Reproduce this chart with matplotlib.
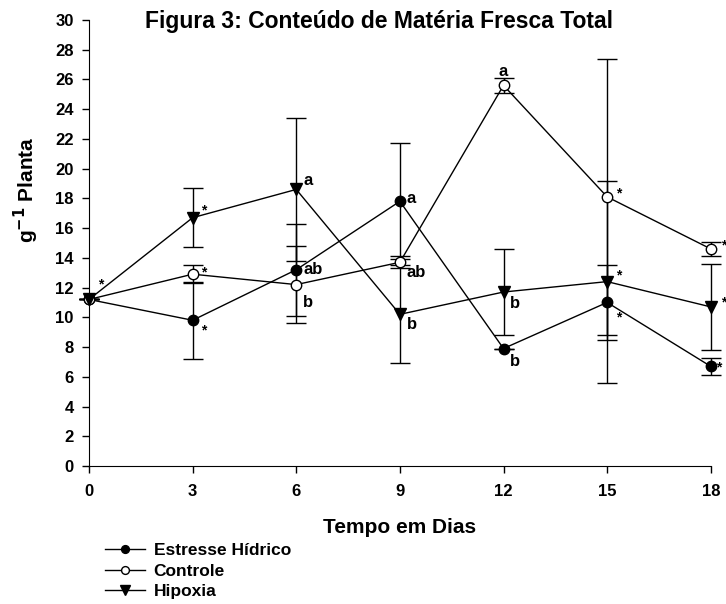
import matplotlib.pyplot as plt

plt.rcParams['font.family'] = ['Liberation Sans', 'DejaVu Sans']
plt.rcParams['font.weight'] = 'bold'

# Data
dias = [0, 3, 6, 9, 12, 15, 18]

estresse = [11.2, 9.8, 13.2, 17.8, 7.9, 11.0, 6.7]
estresse_err = [0.0, 2.6, 3.1, 3.9, 0.0, 2.5, 0.55]

controle = [11.2, 12.9, 12.2, 13.7, 25.6, 18.1, 14.6]
controle_err = [0.0, 0.6, 2.6, 0.4, 0.5, 9.3, 0.45]

hipoxia = [11.2, 16.7, 18.6, 10.2, 11.7, 12.4, 10.7]
hipoxia_err = [0.0, 2.0, 4.8, 3.3, 2.9, 6.8, 2.9]

# letters / asterisks next to points: (x, y, text)
anotacoes = [
    (0.25, 12.2, '*'),
    (3.25, 17.2, '*'), (3.25, 13.0, '*'), (3.25, 9.1, '*'),
    (6.2, 19.2, 'a'), (6.2, 13.2, 'ab'), (6.2, 11.0, 'b'),
    (9.2, 18.0, 'a'), (9.2, 13.0, 'ab'), (9.2, 9.5, 'b'),
    (11.85, 26.5, 'a'), (12.2, 10.9, 'b'), (12.2, 7.0, 'b'),
    (15.25, 18.3, '*'), (15.25, 12.8, '*'), (15.25, 10.0, '*'),
    (18.3, 14.8, '*'), (18.3, 11.0, '*'), (18.15, 6.6, '*'),
]

fig = plt.figure(figsize=(7.26, 6.04), dpi=100)
ax = fig.add_axes([0.1226, 0.2285, 0.8564, 0.7385])

kw = dict(color='black', linewidth=1.0, capsize=7,
          elinewidth=1.0, capthick=1.0, clip_on=False)
h1 = ax.errorbar(dias, estresse, yerr=estresse_err, marker='o', markersize=7.5,
                 markerfacecolor='black', label='Estresse Hídrico', **kw)
h2 = ax.errorbar(dias, controle, yerr=controle_err, marker='o', markersize=7.5,
                 markerfacecolor='white', label='Controle', **kw)
h3 = ax.errorbar(dias, hipoxia, yerr=hipoxia_err, marker='v', markersize=9,
                 markerfacecolor='black', label='Hipoxia', **kw)

for x, y, t in anotacoes:
    ax.text(x, y, t, fontsize=12 if t != '*' else 10, fontweight='bold',
            va='center', ha='left')

ax.set_xlim(0, 18)
ax.set_ylim(0, 30)
ax.set_xticks(dias)
ax.set_yticks(range(0, 31, 2))
ax.tick_params(direction='out', length=5, width=1, labelsize=12)
ax.tick_params(axis='x', pad=8)
ax.tick_params(axis='y', pad=6)
for s in ['top', 'right']:
    ax.spines[s].set_visible(False)

ax.set_xlabel('Tempo em Dias', fontsize=15, fontweight='bold')
ax.xaxis.set_label_coords(0.5, -0.117)
ax.set_ylabel('g$^{\\mathbf{-1}}$ Planta', fontsize=15, fontweight='bold')
ax.yaxis.set_label_coords(-0.077, 0.62)
fig.text(0.522, 0.965, 'Figura 3: Conteúdo de Matéria Fresca Total',
         fontsize=16.5, fontweight='bold', ha='center', va='center')

leg_handles = [h1[0], h2[0], h3[0]]
fig.legend(leg_handles, ['Estresse Hídrico', 'Controle', 'Hipoxia'],
           loc='upper left', bbox_to_anchor=(0.135, 0.112), frameon=False,
           fontsize=12.5, handlelength=2.3, labelspacing=0.3,
           borderaxespad=0, handletextpad=0.5, markerscale=0.75)

fig.savefig('out.png', dpi=100)
